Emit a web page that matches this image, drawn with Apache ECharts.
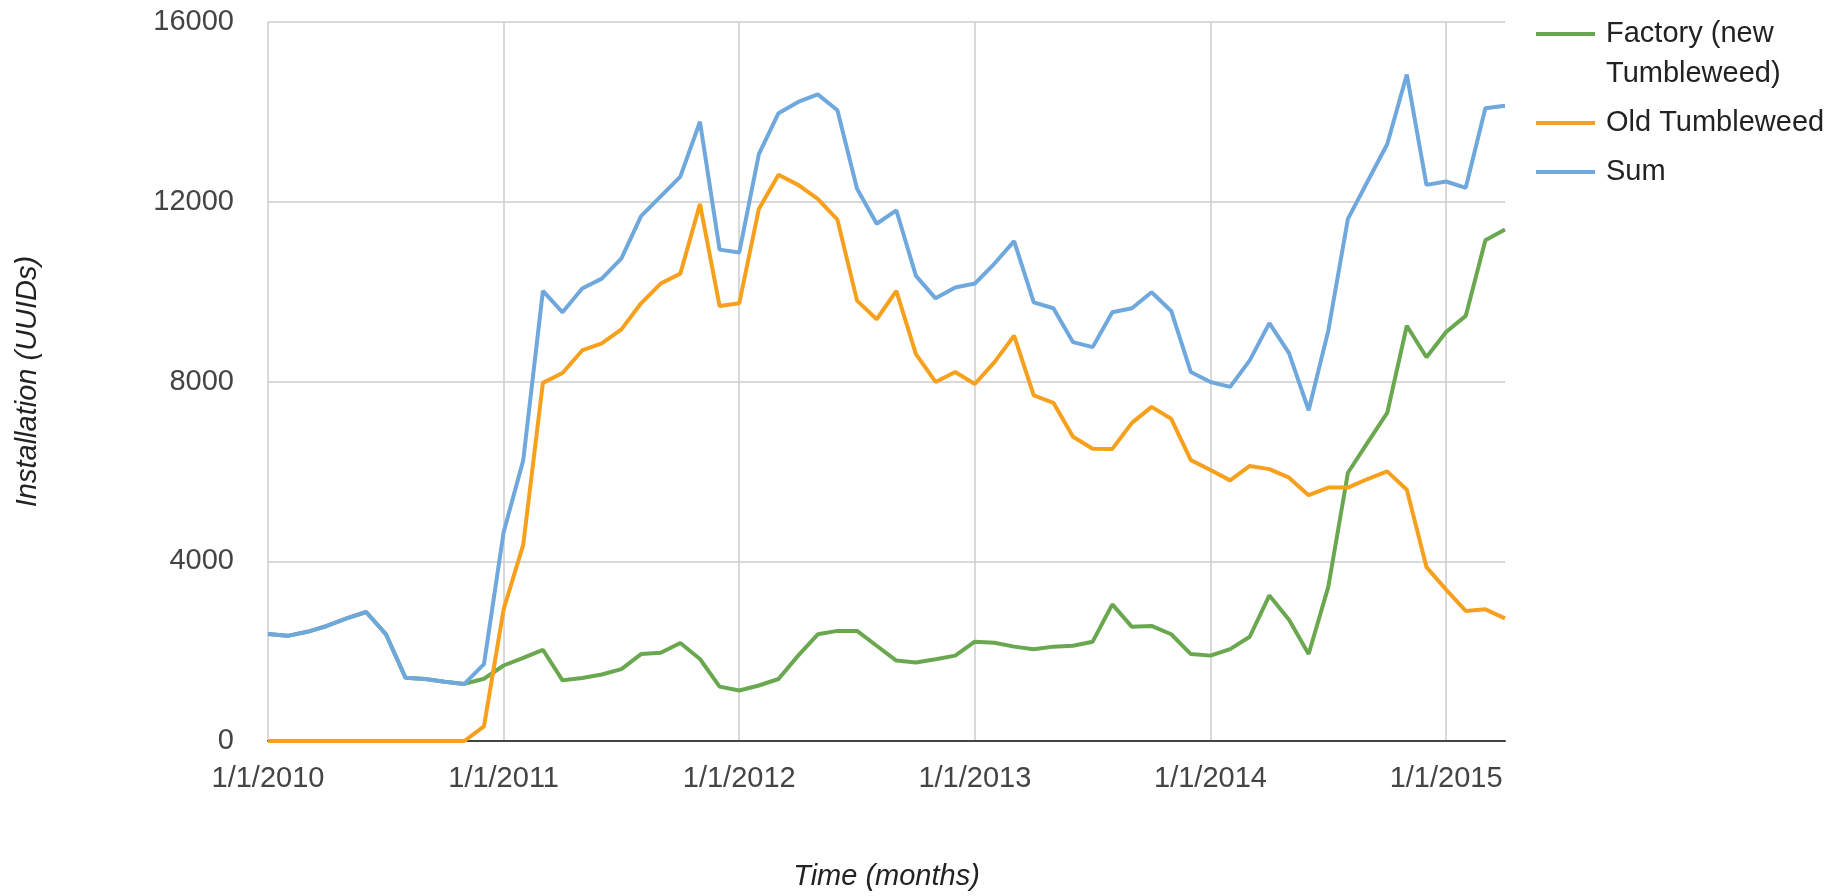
<!DOCTYPE html>
<html>
<head>
<meta charset="utf-8">
<script src="https://cdn.jsdelivr.net/npm/echarts@6/dist/echarts.min.js"></script>
<style>
  html, body { margin: 0; padding: 0; background: #fff; }
  #chart { width: 1841px; height: 896px; }
</style>
</head>
<body>
<div id="chart"></div>
<script>
// monthly points, Jan 2010 .. Apr 2015
const months = [];
for (let y = 2010; y <= 2015; y++) {
  for (let m = 1; m <= 12; m++) {
    if (y === 2015 && m > 4) break;
    months.push(m + "/1/" + y);
  }
}

const factory = [
  2380, 2340, 2430, 2560, 2730, 2870, 2380, 1410, 1380, 1320, 1270, 1385,
  1680, 1850, 2030, 1350, 1400, 1480, 1600, 1935, 1965, 2180, 1825, 1210,
  1125, 1235, 1380, 1900, 2375, 2450, 2450, 2120, 1790, 1745, 1820, 1900,
  2210, 2185, 2100, 2040, 2100, 2120, 2210, 3040, 2540, 2560, 2375, 1935,
  1900, 2045, 2320, 3240, 2700, 1935, 3430, 5970, 6640, 7300, 9240, 8540,
  9100, 9460, 11145, 11380,
];

const oldTumbleweed = [
  0, 0, 0, 0, 0, 0, 0, 0, 0, 0, 0, 325,
  2930, 4370, 7970, 8190, 8690, 8850, 9160, 9740, 10180, 10400, 11950, 9680,
  9740, 11840, 12600, 12375, 12065, 11600, 9800, 9385, 10015, 8610, 7990, 8210,
  7945, 8430, 9020, 7690, 7525, 6770, 6505, 6500, 7080, 7435, 7170, 6250,
  6030, 5800, 6120, 6050, 5860, 5470, 5640, 5640, 5830, 6000, 5590, 3870,
  3370, 2895, 2930, 2730,
];

const sum = [
  2380, 2340, 2430, 2560, 2730, 2870, 2380, 1410, 1380, 1320, 1270, 1710,
  4645, 6250, 10015, 9540, 10070, 10290, 10740, 11680, 12120, 12560, 13780, 10935,
  10870, 13060, 13970, 14220, 14390, 14035, 12290, 11510, 11810, 10350, 9850, 10090,
  10180, 10625, 11125, 9760, 9630, 8875, 8765, 9540, 9630, 9985, 9570, 8210,
  7990, 7880, 8470, 9300, 8630, 7360, 9130, 11620, 12450, 13280, 14830, 12375,
  12450, 12310, 14080, 14135,
];

const seriesNames = ["Factory (new Tumbleweed)", "Old Tumbleweed", "Sum"];
const colors = ["#6aa84f", "#f7a01d", "#6fa8dc"];

const FONT = "'Liberation Sans', Arial, sans-serif";

const chart = echarts.init(document.getElementById("chart"));

const option = {
  animation: false,
  color: colors,
  textStyle: { fontFamily: FONT },
  grid: {
    left: 268,
    right: 336,
    top: 22,
    bottom: 155,
  },
  legend: {
    orient: "vertical",
    left: 1536,
    top: -26,
    padding: 0,
    itemGap: 9,
    itemWidth: 59,
    itemHeight: 4,
    icon: "rect",
    textStyle: {
      fontFamily: FONT,
      fontSize: 29,
      lineHeight: 40,
      color: "#222",
      padding: [0, 0, 0, 6],
    },
    // empty first line keeps "Factory (new" level with its line icon
    formatter: (name) => (name === seriesNames[0] ? "\nFactory (new\nTumbleweed)" : name),
    data: seriesNames,
  },
  xAxis: {
    type: "category",
    data: months,
    boundaryGap: false,
    name: "Time (months)",
    nameLocation: "middle",
    nameGap: 121,
    nameTextStyle: {
      fontFamily: FONT,
      fontSize: 29,
      fontStyle: "italic",
      color: "#222",
    },
    axisLine: { lineStyle: { color: "#444", width: 2 } },
    axisTick: { show: false },
    axisLabel: {
      interval: 11,
      margin: 23,
      fontFamily: FONT,
      fontSize: 29,
      color: "#444",
    },
    splitLine: {
      show: true,
      interval: 11,
      lineStyle: { color: "#cccccc", width: 1.5 },
    },
  },
  yAxis: {
    type: "value",
    min: 0,
    max: 16000,
    interval: 4000,
    name: "Installation (UUIDs)",
    nameLocation: "middle",
    nameGap: 226,
    nameTextStyle: {
      fontFamily: FONT,
      fontSize: 29,
      fontStyle: "italic",
      color: "#222",
    },
    axisLine: { show: false },
    axisTick: { show: false },
    axisLabel: {
      margin: 34,
      fontFamily: FONT,
      fontSize: 29,
      color: "#444",
      formatter: (v) => String(v),
    },
    splitLine: { lineStyle: { color: "#cccccc", width: 1.5 } },
  },
  series: [
    { name: seriesNames[0], type: "line", data: factory },
    { name: seriesNames[1], type: "line", data: oldTumbleweed },
    { name: seriesNames[2], type: "line", data: sum },
  ].map((s) => ({
    ...s,
    symbol: "none",
    lineStyle: { width: 4 },
  })),
};

chart.setOption(option);
</script>
</body>
</html>
